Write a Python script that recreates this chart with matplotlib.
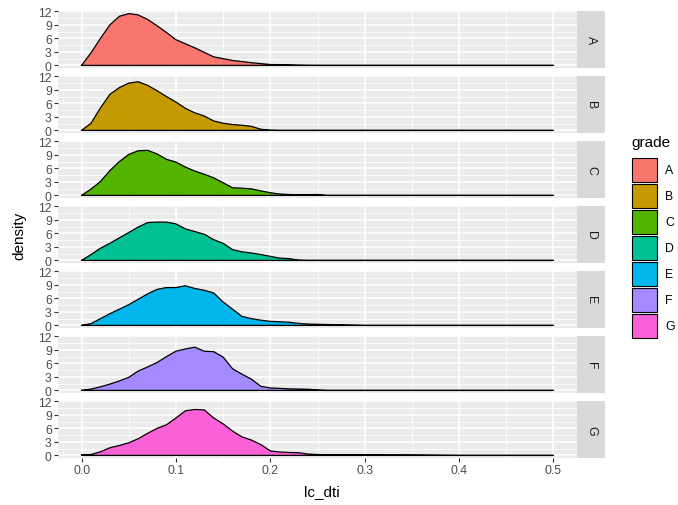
import matplotlib
matplotlib.use('Agg')
import matplotlib.pyplot as plt
from matplotlib.patches import Rectangle
import numpy as np

plt.rcParams['font.family'] = ['Liberation Sans', 'DejaVu Sans']

# density curves (lc_dti on a common grid)
lc_dti = [0.00, 0.01, 0.02, 0.03, 0.04, 0.05, 0.06, 0.07, 0.08, 0.09,
          0.10, 0.11, 0.12, 0.13, 0.14, 0.15, 0.16, 0.17, 0.18, 0.19,
          0.20, 0.21, 0.22, 0.23, 0.24, 0.25, 0.26, 0.30, 0.35, 0.40, 0.50]

dens_A = [0.0, 2.8, 6.0, 9.0, 10.9, 11.5, 11.2, 10.2, 8.8, 7.3,
          5.7, 4.8, 3.9, 2.9, 1.9, 1.5, 1.1, 0.85, 0.6, 0.4,
          0.2, 0.15, 0.12, 0.05, 0.02, 0.0, 0.0, 0.0, 0.0, 0.0, 0.0]
dens_B = [0.0, 1.6, 5.0, 8.0, 9.5, 10.5, 10.8, 10.0, 8.8, 7.5,
          6.3, 4.9, 3.9, 3.2, 2.1, 1.6, 1.3, 1.15, 0.9, 0.25,
          0.05, 0.0, 0.0, 0.0, 0.0, 0.0, 0.0, 0.0, 0.0, 0.0, 0.0]
dens_C = [0.0, 1.4, 3.1, 5.5, 7.5, 9.1, 9.9, 10.0, 9.2, 8.0,
          7.4, 6.3, 5.4, 4.7, 3.9, 2.8, 1.7, 1.6, 1.45, 1.0,
          0.6, 0.3, 0.2, 0.15, 0.15, 0.2, 0.0, 0.0, 0.0, 0.0, 0.0]
dens_D = [0.0, 1.3, 2.7, 3.8, 5.0, 6.2, 7.4, 8.4, 8.5, 8.5,
          8.1, 7.0, 6.4, 5.8, 4.6, 3.8, 2.4, 1.9, 1.65, 1.3,
          0.9, 0.5, 0.4, 0.05, 0.0, 0.0, 0.0, 0.0, 0.0, 0.0, 0.0]
dens_E = [0.0, 0.4, 1.5, 2.6, 3.6, 4.6, 5.8, 7.0, 8.0, 8.4,
          8.4, 8.8, 8.2, 7.8, 7.2, 5.2, 3.6, 2.0, 1.5, 1.15,
          0.9, 0.8, 0.7, 0.45, 0.3, 0.25, 0.2, 0.0, 0.0, 0.0, 0.0]
dens_F = [0.0, 0.3, 0.8, 1.4, 2.1, 2.9, 4.3, 5.2, 6.2, 7.5,
          8.7, 9.2, 9.6, 8.7, 8.6, 7.4, 4.8, 3.6, 2.5, 0.9,
          0.55, 0.45, 0.35, 0.3, 0.25, 0.1, 0.0, 0.0, 0.0, 0.0, 0.0]
dens_G = [0.1, 0.2, 0.8, 1.7, 2.2, 2.8, 3.7, 4.9, 6.0, 6.8,
          8.3, 9.9, 10.2, 10.1, 8.3, 7.0, 5.4, 4.1, 3.4, 2.4,
          1.0, 0.75, 0.65, 0.6, 0.3, 0.2, 0.15, 0.12, 0.1, 0.0, 0.0]

grades = ['A', 'B', 'C', 'D', 'E', 'F', 'G']
densities = [dens_A, dens_B, dens_C, dens_D, dens_E, dens_F, dens_G]
colors = ['#F8766D', '#C49A00', '#53B400', '#00C094', '#00B6EB', '#A58AFF', '#FB61D7']

W, H = 678, 506
fig = plt.figure(figsize=(W / 100, H / 100), dpi=100)
fig.patch.set_facecolor('white')

def fx(px):
    return px / W

def fy(py):
    return 1 - py / H

panel_l, panel_r = 58, 577
strip_r = 605
top0, ph, pitch = 12, 57, 65

x = np.array(lc_dti)
for i, (g, d, c) in enumerate(zip(grades, densities, colors)):
    top = top0 + i * pitch
    ax = fig.add_axes([fx(panel_l), fy(top + ph), fx(panel_r - panel_l), ph / H])
    ax.set_facecolor('#EBEBEB')
    for s in ax.spines.values():
        s.set_visible(False)
    ax.set_xlim(-0.025, 0.525)
    ax.set_ylim(-0.575, 12.075)
    ax.set_xticks([0, 0.1, 0.2, 0.3, 0.4, 0.5])
    ax.set_xticks([0.05, 0.15, 0.25, 0.35, 0.45], minor=True)
    ax.set_yticks([0, 3, 6, 9, 12])
    ax.set_yticks([1.5, 4.5, 7.5, 10.5], minor=True)
    ax.grid(which='major', color='white', lw=1.1)
    ax.grid(which='minor', color='white', lw=0.55)
    ax.set_axisbelow(True)
    ax.tick_params(which='minor', length=0)
    ax.tick_params(which='major', length=3, width=0.8, color='#333333',
                   labelcolor='#4D4D4D', labelsize=8.8, pad=1.5)
    ax.set_yticklabels(['0', '3', '6', '9', '12'])
    if i < 6:
        ax.tick_params(axis='x', length=0, labelbottom=False)
    else:
        ax.set_xticklabels(['0.0', '0.1', '0.2', '0.3', '0.4', '0.5'])
    ax.fill_between(x, 0, d, facecolor=c, edgecolor='none', zorder=2)
    xs = np.concatenate([x, x[::-1]])
    ys = np.concatenate([np.array(d), np.zeros_like(x)])
    ax.plot(xs, ys, color='black', lw=0.9, zorder=3)

    # strip
    sx = fig.add_axes([fx(panel_r), fy(top + ph), fx(strip_r - panel_r), ph / H])
    sx.set_facecolor('#D9D9D9')
    sx.set_xticks([])
    sx.set_yticks([])
    for s in sx.spines.values():
        s.set_visible(False)
    sx.text(0.5, 0.5, g, rotation=-90, ha='center', va='center',
            fontsize=8.8, color='#1A1A1A', transform=sx.transAxes)

fig.text(fx(19), fy(236), 'density', rotation=90, ha='center', va='center',
         fontsize=11, color='black')
fig.text(fx(322), fy(492), 'lc_dti', ha='center', va='center',
         fontsize=11, color='black')

# legend
fig.text(fx(631), fy(143), 'grade', ha='left', va='center', fontsize=11, color='black')
key_top, key_h, key_pitch = 159, 24, 26
for i, (g, c) in enumerate(zip(grades, colors)):
    ky = key_top + i * key_pitch
    fig.add_artist(Rectangle((fx(632), fy(ky + key_h)), fx(25), key_h / H,
                             facecolor=c, edgecolor='black', lw=0.8,
                             transform=fig.transFigure))
    fig.text(fx(665), fy(ky + key_h / 2), g, ha='left', va='center',
             fontsize=8.8, color='black')

fig.savefig('out.png', dpi=100)
